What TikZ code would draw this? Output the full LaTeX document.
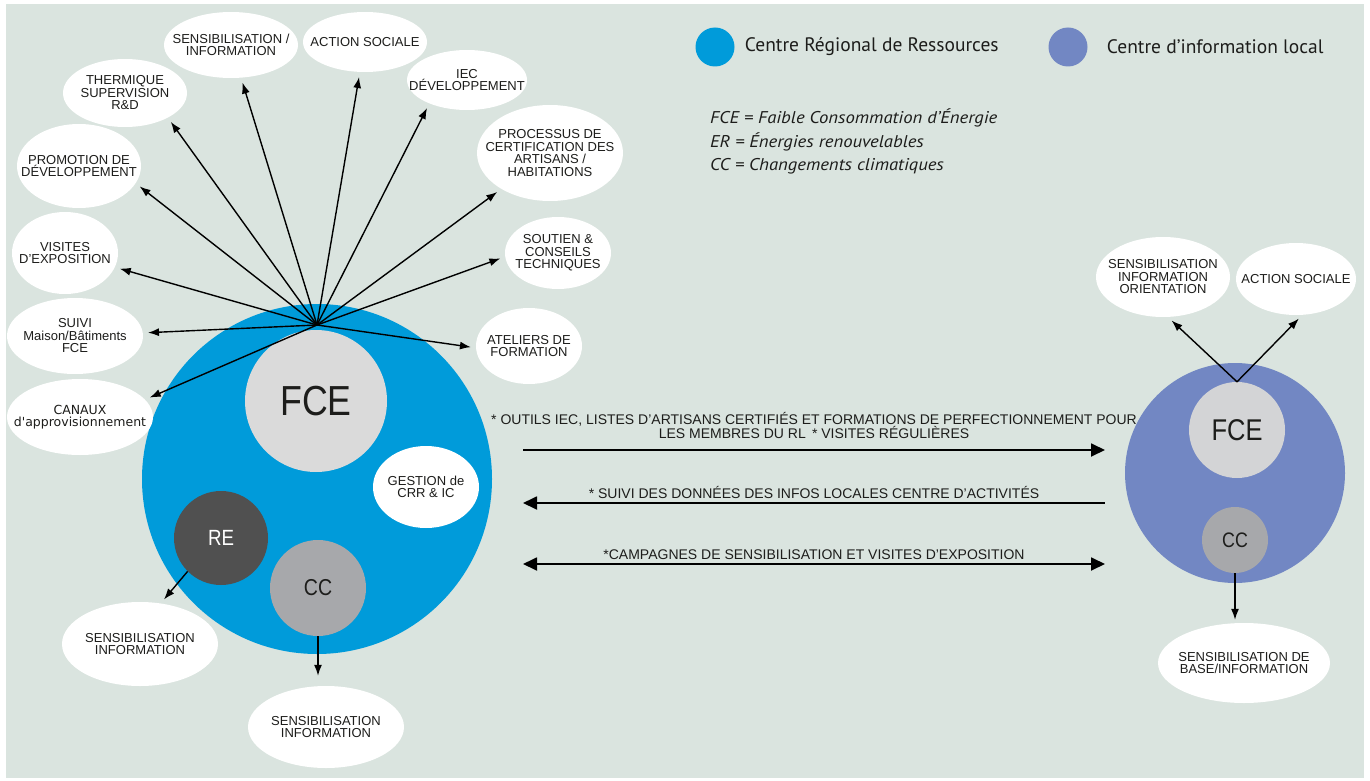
\documentclass[tikz,border=0pt]{standalone}
\usepackage{fontspec}
\setmainfont{Liberation Sans}
\newfontfamily\legfont{PT Sans}
\newfontfamily\notefont[FakeStretch=1.1]{PT Sans}
\newfontfamily\verdfont{DejaVu Sans}
\newfontfamily\bigfont[FakeStretch=0.85]{Liberation Sans}
\usetikzlibrary{arrows.meta,shapes.geometric,positioning}
\definecolor{bgc}{RGB}{218,228,223}
\definecolor{crrc}{RGB}{0,155,218}
\definecolor{cilc}{RGB}{114,135,195}
\definecolor{fcel}{RGB}{218,218,218}
\definecolor{fcer}{RGB}{211,212,214}
\definecolor{rec}{RGB}{80,80,80}
\definecolor{ccc}{RGB}{167,168,171}
\definecolor{txt}{RGB}{29,29,27}

\begin{document}
\begin{tikzpicture}[x=1pt,y=-1pt,inner sep=0,text=txt,
  bubble/.style={ellipse,fill=white,inner sep=-80pt,align=center,font=\fontsize{13}{12.5}\selectfont},
  disc/.style={circle,fill=#1},
  spoke/.style={-{Latex[length=11pt,width=8pt]},line width=1.4pt,shorten >=5pt},
  flow/.style={line width=1.8pt,>={Triangle[length=14pt,width=13pt]}},
  lab/.style={align=center,font=\fontsize{14}{13}\selectfont}]
	\useasboundingbox (0,0) rectangle (1370,781);
	\fill[white] (0,0) rectangle (1370,781);
	\fill[bgc] (6,4) rectangle (1364,778);

	\node[disc=crrc,minimum size=350pt] (crr) at (317,479) {};
	\node[disc=fcel,minimum size=142pt,font=\bigfont\fontsize{42}{42}\selectfont] (fce) at (316,401) {FCE};
	\node[bubble,minimum width=106pt,minimum height=82pt] (gest) at (426,487) {GESTION de\\CRR \& IC};
	\node[disc=rec,minimum size=94pt,text=white,font=\bigfont\fontsize{22}{22}\selectfont] (re) at (221,538) {RE};
	\node[disc=ccc,minimum size=96pt,font=\bigfont\fontsize{23}{23}\selectfont] (cc) at (318,588) {CC};
	\coordinate (hub) at (317,325);

	\node[bubble,minimum width=134pt,minimum height=66pt] (e1) at (231,45) {SENSIBILISATION /\\INFORMATION};
	\node[bubble,minimum width=124pt,minimum height=60pt] (e2) at (365,42) {ACTION SOCIALE};
	\node[bubble,minimum width=120pt,minimum height=60pt] (e3) at (467,80) {IEC\\DÉVELOPPEMENT};
	\node[bubble,minimum width=146pt,minimum height=96pt] (e4) at (550,153) {PROCESSUS DE\\CERTIFICATION DES\\ARTISANS /\\HABITATIONS};
	\node[bubble,minimum width=124pt,minimum height=68pt] (e5) at (125,93) {THERMIQUE\\SUPERVISION\\R\&D};
	\node[bubble,minimum width=124pt,minimum height=84pt] (e6) at (79,166) {PROMOTION DE\\DÉVELOPPEMENT};
	\node[bubble,minimum width=106pt,minimum height=82pt] (e7) at (65,253) {VISITES\\D’EXPOSITION};
	\node[bubble,minimum width=136pt,minimum height=76pt] (e8) at (75,336) {SUIVI\\Maison/Bâtiments\\FCE};
	\node[bubble,minimum width=146pt,minimum height=76pt,font=\verdfont\fontsize{12.5}{12.5}\selectfont] (e9) at (80,417) {CANAUX\\d'approvisionnement};
	\node[bubble,minimum width=106pt,minimum height=72pt] (e10) at (558,253) {SOUTIEN \&\\CONSEILS\\TECHNIQUES};
	\node[bubble,minimum width=106pt,minimum height=76pt] (e11) at (529,346) {ATELIERS DE\\FORMATION};
	\node[bubble,minimum width=156pt,minimum height=84pt] (s1) at (140,644) {SENSIBILISATION\\INFORMATION};
	\node[bubble,minimum width=156pt,minimum height=82pt] (s2) at (326,727) {SENSIBILISATION\\INFORMATION};

	\draw[spoke] (hub) -- (e1);
	\draw[spoke] (hub) -- (e2);
	\draw[spoke] (hub) -- (e3.-148);
	\draw[spoke] (hub) -- (e4);
	\draw[spoke] (hub) -- (e5.-30);
	\draw[spoke] (hub) -- (e6.-17);
	\draw[spoke] (hub) -- (e7);
	\draw[spoke] (hub) -- (e8);
	\draw[spoke] (hub) -- (e9.15);
	\draw[spoke] (hub) -- (e10.-176);
	\draw[spoke] (hub) -- (e11.-178);
	\draw[spoke] (re.-135) -- (s1.63);
	\draw[spoke,shorten >=10pt] (cc.south) -- (cc.south |- s2.north);

	\node[disc=cilc,minimum size=220pt] (cil) at (1235,473) {};
	\node[disc=fcer,minimum size=96pt,font=\bigfont\fontsize{30}{30}\selectfont] (fce2) at (1237,430) {FCE};
	\node[disc=ccc,minimum size=66pt,font=\bigfont\fontsize{21}{21}\selectfont] (cc2) at (1235,540) {CC};
	\node[bubble,minimum width=134pt,minimum height=80pt] (r1) at (1163,277) {SENSIBILISATION\\INFORMATION\\ORIENTATION};
	\node[bubble,minimum width=120pt,minimum height=72pt] (r2) at (1296,279) {ACTION SOCIALE};
	\node[bubble,minimum width=172pt,minimum height=80pt] (r3) at (1244,663) {SENSIBILISATION DE\\BASE/INFORMATION};
	\draw[spoke] (fce2.north) -- (r1.-83);
	\draw[spoke] (fce2.north) -- (r2.-80);
	\draw[spoke,shorten >=3pt] (cc2.south) -- (cc2.south |- r3.north);

	\coordinate (a1) at (523,450);
	\coordinate (b1) at (1105,450);
	\coordinate (a2) at (523,503);
	\coordinate (b2) at (1105,503);
	\coordinate (a3) at (523,564);
	\coordinate (b3) at (1105,564);
	\draw[flow,->] (a1) -- node[lab,above=10pt] {* OUTILS IEC, LISTES D’ARTISANS CERTIFIÉS ET FORMATIONS DE PERFECTIONNEMENT POUR\\LES MEMBRES DU RL \,* VISITES RÉGULIÈRES} (b1);
	\draw[flow,<-] (a2) -- node[lab,above=3pt] {* SUIVI DES DONNÉES DES INFOS LOCALES CENTRE D’ACTIVITÉS} (b2);
	\draw[flow,<->] (a3) -- node[lab,above=3pt] {*CAMPAGNES DE SENSIBILISATION ET VISITES D’EXPOSITION} (b3);

	\node[disc=crrc,minimum size=39pt] (l1) at (715,47) {};
	\node[right=10pt of l1,font=\legfont\fontsize{19.5}{19.5}\selectfont] (l1t) {Centre Régional de Ressources};
	\node[disc=cilc,minimum size=39pt] (l2) at (1068,47) {};
	\node[right=19pt of l2,font=\legfont\fontsize{19.5}{19.5}\selectfont] (l2t) {Centre d’information local};
	\node[anchor=west,font=\notefont\itshape\fontsize{17}{17}\selectfont] (d1) at (710,118) {FCE = Faible Consommation d’Énergie};
	\node[anchor=west,font=\notefont\itshape\fontsize{17}{17}\selectfont] (d2) at (710,142) {ER = Énergies renouvelables};
	\node[anchor=west,font=\notefont\itshape\fontsize{17}{17}\selectfont] (d3) at (710,166) {CC = Changements climatiques};
\end{tikzpicture}
\end{document}
